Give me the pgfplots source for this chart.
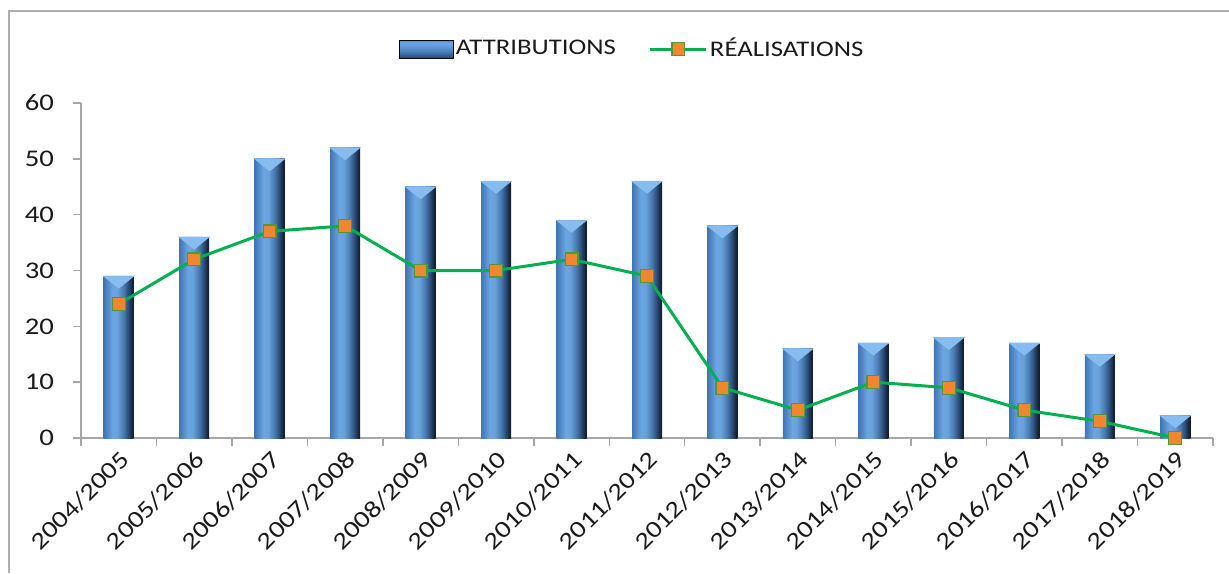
\documentclass[border=0pt]{standalone}
\usepackage{fontspec}
\setmainfont{Carlito}[FakeStretch=1.2]
\usepackage{pgfplots}
\usepackage{pgfplotstable}
\pgfplotsset{compat=1.18}

\definecolor{bevel}{HTML}{86BCEE}
\definecolor{lineG}{HTML}{00B050}
\definecolor{markO}{HTML}{F0862E}
\definecolor{markB}{HTML}{4E9A3A}
\definecolor{axG}{HTML}{A6A6A6}
\definecolor{txt}{HTML}{1A1A1A}

\pgfdeclarehorizontalshading{barshade}{100bp}{%
  color(0bp)=(rgb,255:red,66;green,118;blue,176);
  color(25bp)=(rgb,255:red,66;green,118;blue,176);
  color(30bp)=(rgb,255:red,78;green,134;blue,196);
  color(40bp)=(rgb,255:red,108;green,166;blue,226);
  color(48bp)=(rgb,255:red,104;green,160;blue,218);
  color(58bp)=(rgb,255:red,72;green,120;blue,176);
  color(66bp)=(rgb,255:red,42;green,76;blue,118);
  color(72bp)=(rgb,255:red,22;green,38;blue,60);
  color(75bp)=(rgb,255:red,16;green,28;blue,44);
  color(100bp)=(rgb,255:red,16;green,28;blue,44)}

\pgfdeclareverticalshading{legshade}{100bp}{%
  color(0bp)=(rgb,255:red,40;green,72;blue,112);
  color(25bp)=(rgb,255:red,40;green,72;blue,112);
  color(45bp)=(rgb,255:red,76;green,130;blue,192);
  color(65bp)=(rgb,255:red,108;green,166;blue,226);
  color(75bp)=(rgb,255:red,90;green,146;blue,206);
  color(100bp)=(rgb,255:red,90;green,146;blue,206)}

\pgfplotstableread{
x a r
0 29 24
1 36 32
2 50 37
3 52 38
4 45 30
5 46 30
6 39 32
7 46 29
8 38 9
9 16 5
10 17 10
11 18 9
12 17 5
13 15 3
14 4 0
}\data

\pgfdeclareplotmark{bevel}{\fill (-7.5bp,0bp) -- (7.5bp,0bp) -- (0bp,-6bp) -- cycle;}

\pgfplotsset{
  barsty/.style={ybar, bar width=15bp, draw=none, shading=barshade, forget plot},
  barleg/.style={legend image code/.code={\shade[shading=legshade] (0bp,-4.5bp) rectangle (27bp,4.5bp);}},
  lineleg/.style={legend image code/.code={\draw[##1, mark repeat=2, mark phase=2] plot coordinates {(0bp,0bp) (14bp,0bp) (28bp,0bp)};}},
}

\begin{document}
\begin{tikzpicture}[x=1bp,y=1bp]
\useasboundingbox (-40.5,-67.5) rectangle (574,219);
\draw[axG!90, line width=1bp] (-36,-67.5) -- (-36,213.5) -- (574,213.5);
\begin{axis}[
  at={(0,0)}, anchor=south west,
  scale only axis, width=566bp, height=167.5bp,
  xmin=-0.5, xmax=14.5, ymin=0, ymax=60,
  ytick={0,10,...,60},
  xtick={0,...,14},
  xticklabels={2004/2005,2005/2006,2006/2007,2007/2008,2008/2009,2009/2010,2010/2011,2011/2012,2012/2013,2013/2014,2014/2015,2015/2016,2016/2017,2017/2018,2018/2019},
  minor xtick={-0.5,0.5,...,14.5},
  major x tick style={draw=none},
  minor x tick style={draw=axG, line width=0.75bp},
  y tick style={draw=axG, line width=0.75bp},
  axis x line*=bottom, axis y line*=left,
  axis line style={draw=axG, line width=0.75bp},
  tick align=outside,
  major tick length=4bp, minor tick length=4bp,
  /pgf/number format/assume math mode=true,
  yticklabel style={font=\fontsize{12}{14}\selectfont, text=txt, xshift=-6bp},
  xticklabel style={font=\fontsize{12}{14}\selectfont, text=txt, rotate=45, anchor=north east, inner sep=1bp},
  legend style={at={(0.487,1.161)}, anchor=center, draw=none, fill=none,
    font=\fontsize{11.2}{14}\selectfont, text=txt,
    nodes={inner xsep=1bp},
    /tikz/every even column/.append style={column sep=15.5bp},
    inner sep=0pt},
  legend columns=2,
  clip=false,
]
\pgfplotsinvokeforeach{0,...,14}{
  \addplot[barsty] table[x=x, y=a, restrict x to domain=#1:#1] {\data};
}
\addplot[only marks, mark=bevel, color=bevel, forget plot] table[x=x, y=a] {\data};
\addlegendimage{barleg}
\addlegendentry{ATTRIBUTIONS}
\addplot[color=lineG, line width=1.5bp, mark=square*, mark size=3.2bp,
  mark options={fill=markO, draw=markB, line width=0.6bp}, lineleg]
  table[x=x, y=r] {\data};
\addlegendentry{RÉALISATIONS}
\end{axis}
\end{tikzpicture}
\end{document}
